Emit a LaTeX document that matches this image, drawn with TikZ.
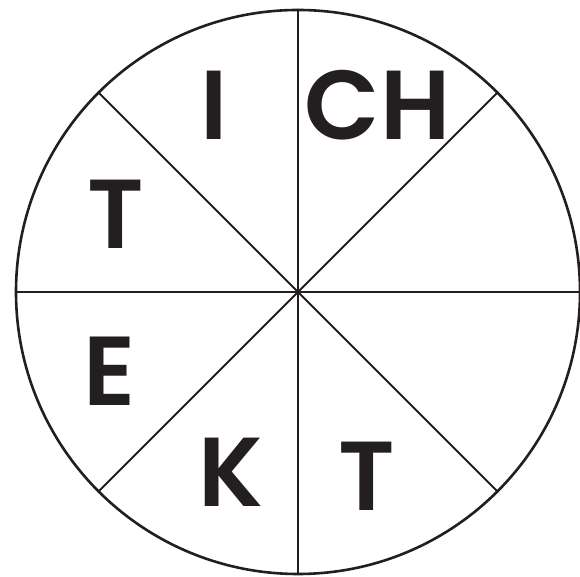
\documentclass[tikz,border=0pt]{standalone}
\usepackage{fontspec}
\setmainfont{Poppins}[BoldFont={Poppins SemiBold}]
\definecolor{ink}{HTML}{231F20}
\begin{document}
\begin{tikzpicture}[x=1pt,y=1pt,
  letter/.style={font=\fontsize{98}{98}\selectfont\bfseries, text=ink, inner sep=0pt, anchor=base},
  rim/.style={draw=ink, line width=2.6pt},
  spoke/.style={draw=ink, line width=2pt}]
\useasboundingbox (0,0) rectangle (580,577);
\coordinate (c) at (298,285);
\node[circle, minimum size=564pt, inner sep=0pt, rim] (disc) at (c) {};
\foreach \a in {0,45,90,135} {
  \draw[spoke] (disc.\a) -- (disc.\the\numexpr\a+180\relax);
}
\node[letter] (l1) at (214.5,437) {I};
\node[letter] (l2) at (377.5,437) {CH};
\node[letter] (l3) at (115.5,328) {T};
\node[letter] (l4) at (109.5,171) {E};
\node[letter] (l5) at (231,70) {K};
\node[letter] (l6) at (366.5,66) {T};
\end{tikzpicture}
\end{document}
